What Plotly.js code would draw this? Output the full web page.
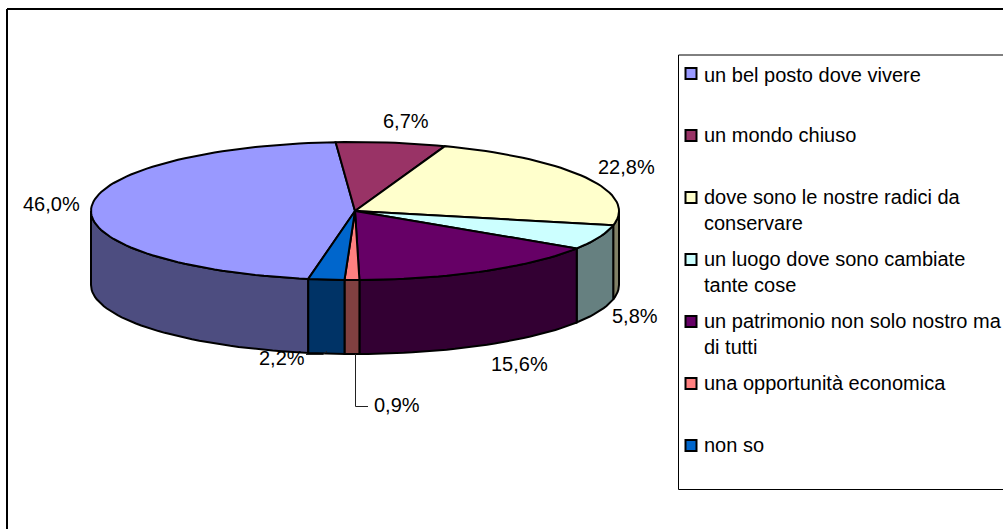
<!DOCTYPE html>
<html><head><meta charset="utf-8">
<script src="https://cdn.plot.ly/plotly-3.0.1.min.js"></script>
<style>html,body{margin:0;padding:0;background:#fff}#c{width:1003px;height:529px}</style>
</head><body><div id="c"></div>
<script>
const categories=["un bel posto dove vivere","un mondo chiuso","dove sono le nostre radici da|conservare","un luogo dove sono cambiate|tante cose","un patrimonio non solo nostro ma|di tutti","una opportunità economica","non so"];
const values=[46.0,6.7,22.8,5.8,15.6,0.9,2.2];
const topColors=["#9999FF","#993366","#FFFFCC","#CCFFFF","#660066","#FF8080","#0066CC"];
const sideColors=["#4D4D80","#802040","#808066","#668080","#330033","#804040","#003366"];
const labelX=[51,406,626,635,519,397,282];
const labelY=[204,121,167,316,364,405,358];
const legendY=[73.5,135.5,197.5,259.5,321.5,383.5,445.5];
const legendTextY=[75,135,197,259,321,383,445];

const cx=355,cy=211,rx=264,ry=69,depth=74,startDeg=190.2;
const F='"Liberation Sans",Arial,sans-serif';
const FS=20;
function pt(deg,dy){const t=deg*Math.PI/180;return [cx+rx*Math.sin(t),cy-ry*Math.cos(t)+(dy||0)];}
function arc(a,b,dy){const n=Math.max(2,Math.ceil(Math.abs(b-a)/2));const out=[];for(let i=0;i<=n;i++)out.push(pt(a+(b-a)*i/n,dy));return out;}
function poly(points,fill,name){return {type:'scatter',mode:'lines',x:points.map(p=>p[0]),y:points.map(p=>p[1]),fill:'toself',fillcolor:fill,line:{color:'#000',width:2},hoverinfo:'skip',showlegend:false,name:name};}

const traces=[],sides=[],tops=[];
let a=startDeg;
const total=values.reduce((s,v)=>s+v,0);
values.forEach((v,i)=>{
  const b=a+v/total*360;
  tops.push(poly([[cx,cy]].concat(arc(a,b)).concat([[cx,cy]]),topColors[i],categories[i]));
  // visible side wall: the part of the rim on the front half (90..270, also +360)
  [[90,270],[450,630]].forEach(r=>{
    const lo=Math.max(a,r[0]),hi=Math.min(b,r[1]);
    if(hi>lo){const t=arc(lo,hi,0),u=arc(hi,lo,depth);sides.push(poly(t.concat(u).concat([t[0]]),sideColors[i],categories[i]));}
  });
  a=b;
});
traces.push(...sides,...tops);

// leader lines
const leader=(xs,ys)=>({type:'scatter',mode:'lines',x:xs,y:ys,line:{color:'#222',width:1},hoverinfo:'skip',showlegend:false});
traces.push(leader([306,323,327],[354.5,354.5,351]));
traces.push(leader([355.5,355.5,368],[354,406.5,406.5]));

// legend swatches
traces.push({type:'scatter',mode:'markers',x:categories.map(()=>691),y:legendY,
  marker:{symbol:'square',size:11,color:topColors,line:{color:'#000',width:2}},hoverinfo:'skip',showlegend:false});

const ann=[];
values.forEach((v,i)=>ann.push({x:labelX[i],y:labelY[i],xref:'x',yref:'y',showarrow:false,xanchor:'center',yanchor:'middle',
  text:v.toFixed(1).replace('.',',')+'%',font:{family:F,size:FS,color:'#000'}}));
categories.forEach((c,i)=>c.split('|').forEach((ln,j)=>ann.push({x:704,y:legendTextY[i]+j*26,xref:'x',yref:'y',showarrow:false,xanchor:'left',yanchor:'middle',xshift:-2,
  text:ln,font:{family:F,size:FS,color:'#000'}})));

const layout={width:1003,height:529,margin:{l:0,r:0,t:0,b:0},paper_bgcolor:'#fff',plot_bgcolor:'#fff',showlegend:false,
  xaxis:{range:[0,1003],visible:false,fixedrange:true},
  yaxis:{range:[529,0],visible:false,fixedrange:true},
  annotations:ann,
  shapes:[
    {type:'line',xref:'x',yref:'y',x0:7,x1:1003,y0:9,y1:9,line:{color:'#000',width:2},layer:'below'},
    {type:'line',xref:'x',yref:'y',x0:7,x1:7,y0:9,y1:529,line:{color:'#000',width:2},layer:'below'},
    {type:'rect',xref:'x',yref:'y',x0:678.5,x1:1010,y0:55,y1:489.5,line:{color:'#000',width:1},fillcolor:'#fff',layer:'below'}
  ]};
Plotly.newPlot('c',traces,layout,{displayModeBar:false,staticPlot:true});
</script></body></html>
